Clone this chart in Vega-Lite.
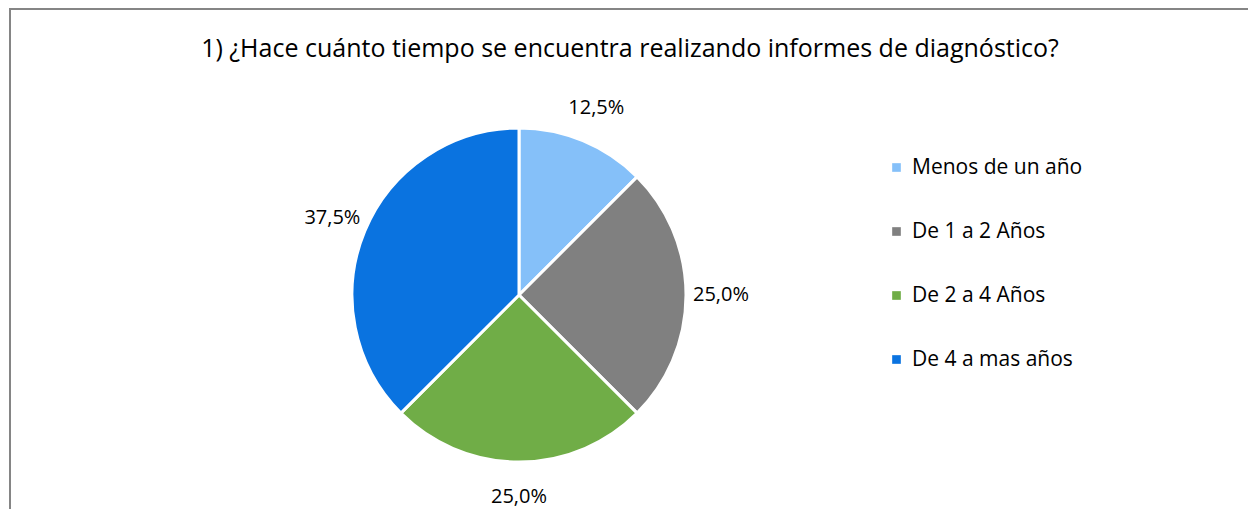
{
  "$schema": "https://vega.github.io/schema/vega-lite/v6.json",
  "width": 1270,
  "height": 520,
  "autosize": {"type": "none"},
  "padding": {"left": 10, "top": 9, "right": 0, "bottom": 0},
  "background": "white",
  "view": {"stroke": "#858585", "strokeWidth": 2, "fill": null},
  "config": {
    "font": "Open Sans"
  },
  "title": {
    "text": "1) ¿Hace cuánto tiempo se encuentra realizando informes de diagnóstico?",
    "font": "Open Sans",
    "fontSize": 25,
    "fontWeight": "normal",
    "color": "#000000",
    "anchor": "middle",
    "orient": "top",
    "offset": -53,
    "dx": -15
  },
  "data": {
    "values": [
      {"categoria": "Menos de un año", "valor": 12.5, "orden": 1, "etiqueta": "12,5%"},
      {"categoria": "De 1 a 2 Años", "valor": 25.0, "orden": 2, "etiqueta": "25,0%"},
      {"categoria": "De 2 a 4 Años", "valor": 25.0, "orden": 3, "etiqueta": "25,0%"},
      {"categoria": "De 4 a mas años", "valor": 37.5, "orden": 4, "etiqueta": "37,5%"}
    ]
  },
  "encoding": {
    "theta": {"field": "valor", "type": "quantitative", "stack": true},
    "order": {"field": "orden", "type": "quantitative"},
    "color": {
      "field": "categoria",
      "type": "nominal",
      "scale": {
        "domain": ["Menos de un año", "De 1 a 2 Años", "De 2 a 4 Años", "De 4 a mas años"],
        "range": ["#85C0F9", "#808080", "#70AD47", "#0A73E0"]
      },
      "legend": {
        "title": null,
        "orient": "none",
        "legendX": 876,
        "legendY": 148,
        "symbolType": "square",
        "symbolSize": 75,
        "symbolStrokeWidth": 0,
        "labelFont": "Open Sans",
        "labelFontSize": 21,
        "labelColor": "#000000",
        "labelOffset": 5,
        "rowPadding": 42,
        "labelLimit": 300
      }
    }
  },
  "layer": [
    {
      "mark": {"type": "arc", "outerRadius": 167, "x": 509, "y": 286, "stroke": "white", "strokeWidth": 3}
    },
    {
      "mark": {"type": "text", "radius": 202, "x": 509, "y": 286, "fontSize": 20, "font": "Open Sans", "color": "#000000"},
      "encoding": {
        "text": {"field": "etiqueta"},
        "color": {"value": "#000000"}
      }
    }
  ]
}
